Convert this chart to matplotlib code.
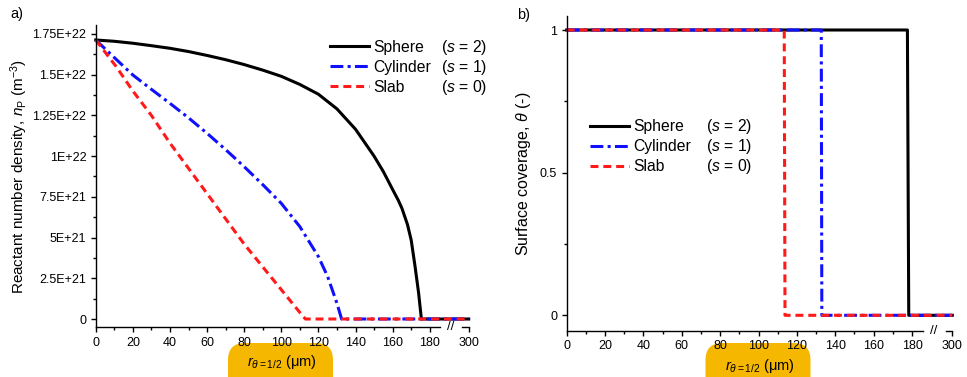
import numpy as np
import matplotlib
matplotlib.use("Agg")
import matplotlib.pyplot as plt
from matplotlib.lines import Line2D
from matplotlib.patches import FancyBboxPatch
from matplotlib.transforms import IdentityTransform
from matplotlib.ticker import FixedLocator, FixedFormatter

plt.rcParams['font.family'] = ['Liberation Sans', 'DejaVu Sans']
plt.rcParams['mathtext.fontset'] = 'custom'
plt.rcParams['mathtext.rm'] = 'Liberation Sans'
plt.rcParams['mathtext.it'] = 'Liberation Sans:italic'
plt.rcParams['mathtext.bf'] = 'Liberation Sans:bold'

# ---------------- data ----------------
series_names = ["Sphere", "Cylinder", "Slab"]
series_s = ["($s$ = 2)", "($s$ = 1)", "($s$ = 0)"]
series_colors = ["black", "#1010FF", "#FF1A1A"]

# panel a: reactant number density (units of 1e22 m^-3)
sphere_x = [0, 10, 20, 30, 40, 50, 60, 70, 80, 90, 100, 110, 120, 130, 140, 150,
            155, 160, 163, 165, 168, 170, 172, 174, 175.5, 300]
sphere_n = [1.713, 1.705, 1.693, 1.678, 1.662, 1.642, 1.618, 1.592, 1.562, 1.528, 1.49,
            1.44, 1.38, 1.29, 1.165, 1.0, 0.905, 0.795, 0.73, 0.68, 0.58, 0.485, 0.33,
            0.16, 0.0, 0.0]
cyl_x = [0, 10, 20, 30, 40, 50, 60, 70, 80, 90, 100, 110, 120, 125, 130, 132.5, 300]
cyl_n = [1.713, 1.605, 1.498, 1.41, 1.324, 1.235, 1.14, 1.04, 0.935, 0.825, 0.71,
         0.567, 0.383, 0.26, 0.096, 0.0, 0.0]
slab_x = [0, 11, 20, 30, 40, 60, 80, 100, 110, 113, 300]
slab_n = [1.713, 1.55, 1.40, 1.25, 1.08, 0.77, 0.46, 0.18, 0.04, 0.0, 0.0]

# panel b: surface coverage
sphere_tx = [0, 177.6, 178.3, 300]
sphere_t = [1, 1, 0, 0]
cyl_tx = [0, 132.7, 133.0, 300]
cyl_t = [1, 1, 0, 0]
slab_tx = [0, 113.4, 113.8, 300]
slab_t = [1, 1, 0, 0]

x_major = [0, 20, 40, 60, 80, 100, 120, 140, 160, 180, 300]
x_major_labels = ["0", "20", "40", "60", "80", "100", "120", "140", "160", "180", "300"]
x_minor = [10, 30, 50, 70, 90, 110, 130, 150, 170]

ya_major = [0, 0.25e22, 0.5e22, 0.75e22, 1.0e22, 1.25e22, 1.5e22, 1.75e22]
ya_labels = ["0", "2.5E+21", "5E+21", "7.5E+21", "1E+22", "1.25E+22", "1.5E+22", "1.75E+22"]
ya_minor = [0.125e22, 0.375e22, 0.625e22, 0.875e22, 1.125e22, 1.375e22, 1.625e22]

yb_major = [0, 0.5, 1]
yb_labels = ["0", "0.5", "1"]
yb_minor = [0.25, 0.75]

# ---------------- broken x scale ----------------
BRK = 185.0
K = 16.0 / 115.0

def fwd(x):
    x = np.asarray(x, dtype=float)
    return np.where(x <= BRK, x, BRK + (x - BRK) * K)

def inv(t):
    t = np.asarray(t, dtype=float)
    return np.where(t <= BRK, t, BRK + (t - BRK) / K)

T_END = float(fwd(300))

fig = plt.figure(figsize=(9.67, 3.77), dpi=100)
axa = fig.add_axes([0.099, 0.1318, 0.3857, 0.8019])
axb = fig.add_axes([0.586, 0.122, 0.3988, 0.8355])

LW = 2.2
styles = ['-', (0, (4.2, 1.4, 1.0, 1.4)), (0, (2.6, 1.6))]

def setup(ax, ymaj, ylab, ymin, ylim):
    ax.set_xscale('function', functions=(fwd, inv))
    ax.set_xlim(0, 300)
    ax.set_ylim(*ylim)
    ax.xaxis.set_major_locator(FixedLocator(x_major))
    ax.xaxis.set_major_formatter(FixedFormatter(x_major_labels))
    ax.xaxis.set_minor_locator(FixedLocator(x_minor))
    ax.yaxis.set_major_locator(FixedLocator(ymaj))
    ax.yaxis.set_major_formatter(FixedFormatter(ylab))
    ax.yaxis.set_minor_locator(FixedLocator(ymin))
    for sp in ['top', 'right', 'bottom']:
        ax.spines[sp].set_visible(False)
    ax.spines['left'].set_linewidth(1.0)
    ax.tick_params(which='both', direction='out', width=1.0, labelsize=9, pad=3)
    ax.tick_params(which='major', length=3.8)
    ax.tick_params(which='minor', length=2.3)
    # broken bottom axis line
    f1 = (BRK + 0.5) / T_END
    f2 = (BRK + 12.5) / T_END
    ax.add_line(Line2D([0, f1], [0, 0], transform=ax.transAxes, color='black',
                       lw=1.0, clip_on=False))
    ax.add_line(Line2D([f2, 1], [0, 0], transform=ax.transAxes, color='black',
                       lw=1.0, clip_on=False))
    ax.text((f1 + f2) / 2, 0.0, "//", transform=ax.transAxes, ha='center', va='center',
            fontsize=9.5, clip_on=False)
    ax.set_xlabel(r"$r_{\theta=1/2}$ (μm)", fontsize=10.5, labelpad=3)

# highlight pills behind x labels (pixel coordinates)
for cx in (280.5, 758.0):
    pill = FancyBboxPatch((cx - 52.5, -20), 105, 54,
                          boxstyle='round,pad=0,rounding_size=17',
                          transform=IdentityTransform(), fc='#F5B700', ec='none',
                          zorder=-1)
    fig.patches.append(pill)

# panel a
setup(axa, ya_major, ya_labels, ya_minor, (-0.051e22, 1.805e22))
lines_a = []
for xs, ys, c, ls in zip([sphere_x, cyl_x, slab_x], [sphere_n, cyl_n, slab_n], series_colors, styles):
    ln, = axa.plot(xs, np.array(ys) * 1e22, color=c, lw=LW, linestyle=ls, clip_on=False)
    lines_a.append(ln)
axa.set_ylabel(r"Reactant number density, $n_{\mathrm{P}}$ (m$^{-3}$)", fontsize=11, labelpad=2)

# panel b
setup(axb, yb_major, yb_labels, yb_minor, (-0.055, 1.049))
lines_b = []
for xs, ys, c, ls in zip([sphere_tx, cyl_tx, slab_tx], [sphere_t, cyl_t, slab_t], series_colors, styles):
    ln, = axb.plot(xs, ys, color=c, lw=LW, linestyle=ls, clip_on=False)
    lines_b.append(ln)
axb.set_ylabel(r"Surface coverage, $\theta$ (-)", fontsize=11.5, labelpad=5)

legs = []
def legends(ax, handles, x1, x2, ytop):
    l1 = ax.legend(handles, series_names, loc='upper left', bbox_to_anchor=(x1, ytop),
                   frameon=False, fontsize=11.3, handlelength=2.5, handletextpad=0.28,
                   labelspacing=0.32, borderpad=0, borderaxespad=0)
    legs.append((ax, l1, x2))

legends(axa, lines_a, 0.628, 0.926, 0.952)
legends(axb, lines_b, 0.060, 0.361, 0.672)

fig.text(10 / 967, 1 - 14 / 377, "a)", fontsize=10.5, va='center', ha='left')
fig.text(517 / 967, 1 - 15 / 377, "b)", fontsize=10.5, va='center', ha='left')

# second legend column "(s = n)" aligned with legend rows
fig.canvas.draw()
for ax, leg, x2 in legs:
    for t, lab in zip(leg.get_texts(), series_s):
        bb = t.get_window_extent()
        yc = (bb.y0 + bb.y1) / 2
        ya = ax.transAxes.inverted().transform((0, yc))[1]
        ax.text(x2, ya, lab, transform=ax.transAxes, fontsize=11.3, ha='left', va='center')

fig.savefig("out.png", dpi=100)
